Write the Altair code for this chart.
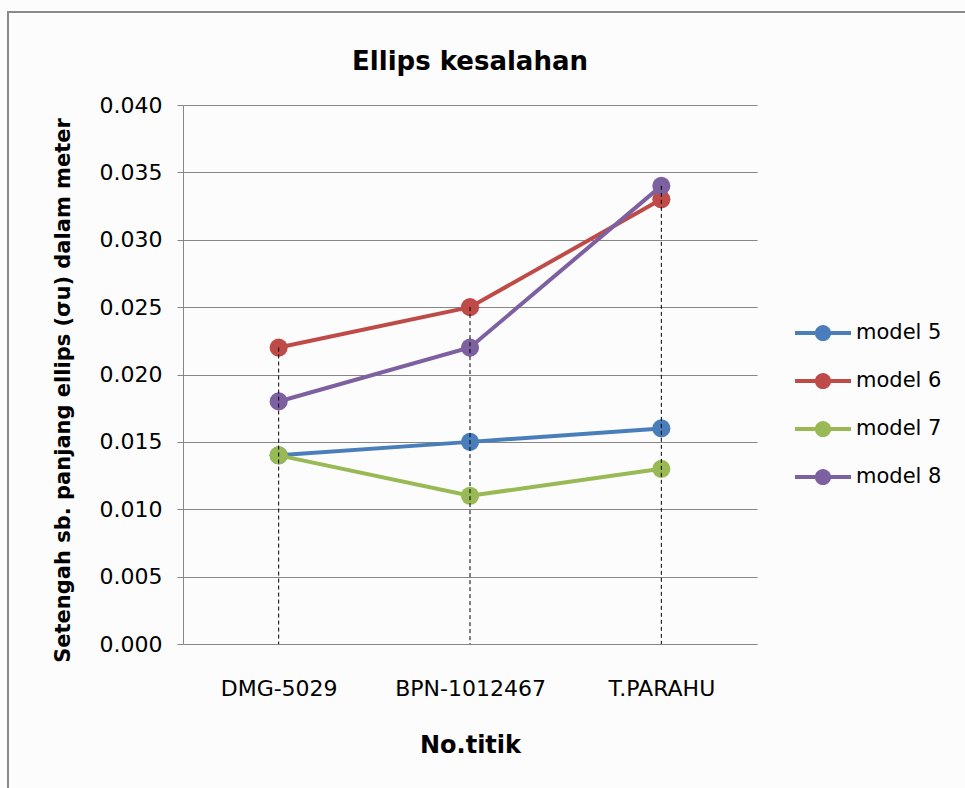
import altair as alt
import pandas as pd

categories = ["DMG-5029", "BPN-1012467", "T.PARAHU"]
series_names = ["model 5", "model 6", "model 7", "model 8"]
model5 = [0.014, 0.015, 0.016]
model6 = [0.022, 0.025, 0.033]
model7 = [0.014, 0.011, 0.013]
model8 = [0.018, 0.022, 0.034]
colors = ["#4A7EBB", "#BE4B48", "#98B954", "#7D60A0"]
y_ticks = [0.0, 0.005, 0.010, 0.015, 0.020, 0.025, 0.030, 0.035, 0.040]

rows = []
for name, vals in zip(series_names, [model5, model6, model7, model8]):
    for c, v in zip(categories, vals):
        rows.append({"titik": c, "model": name, "value": v})
df = pd.DataFrame(rows)

W, H = 574, 539
FONT = "DejaVu Sans"
GRID = "#868686"

x_enc = alt.X(
    "titik:N", sort=categories,
    scale=alt.Scale(type="point", padding=0.5),
    axis=alt.Axis(
        title="No.titik", labelAngle=0, ticks=False, domain=False, grid=False,
        labelFont=FONT, labelFontSize=22, labelColor="#000", labelPadding=34,
        titleFont=FONT, titleFontSize=24, titleFontWeight="bold", titleColor="#000",
        titleX=W / 2, titleY=101, titleBaseline="middle", titleAlign="center",
    ),
)
y_enc = alt.Y(
    "value:Q",
    scale=alt.Scale(domain=[0, 0.04], nice=False, zero=True),
    axis=alt.Axis(
        title="Setengah sb. panjang ellips (σu) dalam meter",
        values=y_ticks, format=".3f",
        grid=True, gridColor=GRID, gridWidth=1,
        domain=True, domainColor=GRID, domainWidth=1,
        ticks=True, tickColor=GRID, tickSize=6, tickWidth=1,
        labelFont=FONT, labelFontSize=22, labelColor="#000", labelPadding=15,
        titleFont=FONT, titleFontSize=21, titleFontWeight="bold", titleColor="#000",
        titleX=-120, titleY=285, titleAngle=-90, titleBaseline="middle", titleAlign="center",
    ),
)

LEG_PATH = ("M-1,-0.071L1,-0.071L1,0.071L-1,0.071Z "
            "M-0.29,0A0.29,0.29 0 1,1 0.29,0A0.29,0.29 0 1,1 -0.29,0Z")

legend = alt.Legend(
    orient="none", legendX=612, legendY=200,
    symbolType=LEG_PATH, symbolSize=3136, symbolStrokeWidth=0, symbolOpacity=1,
    labelFont=FONT, labelFontSize=21, labelColor="#000", labelOffset=5,
    rowPadding=10, padding=0, title=None,
)

scale_c = alt.Scale(domain=series_names, range=colors)
base = alt.Chart(df)

border = alt.Chart(pd.DataFrame({"a": [0]})).mark_rect(
    fill=None, fillOpacity=0, stroke="#8a8a8a", strokeWidth=2
).encode(
    x=alt.value(8 - 183), y=alt.value(12 - 105),
    x2=alt.value(965 - 183 + 10), y2=alt.value(788 - 105 + 10),
)

layers = [border]
for name in series_names:
    sub = base.transform_filter(alt.datum.model == name)
    layers.append(
        sub.mark_line(strokeWidth=4).encode(
            x=x_enc, y=y_enc,
            stroke=alt.Stroke("model:N", scale=scale_c, legend=legend),
        )
    )
    layers.append(
        sub.mark_point(filled=True, size=330, opacity=1).encode(
            x=x_enc, y=y_enc,
            color=alt.Color("model:N", scale=scale_c, legend=legend),
        )
    )

drops = base.transform_aggregate(
    maxv="max(value)", groupby=["titik"]
).mark_rule(color="black", strokeWidth=1, strokeDash=[4, 3]).encode(
    x=x_enc, y=alt.Y("maxv:Q"), y2=alt.datum(0),
)
layers.append(drops)

chart = alt.layer(*layers).properties(
    width=W, height=H,
    title=alt.TitleParams(
        "Ellips kesalahan", font=FONT, fontSize=26, fontWeight="bold", color="#000",
        anchor="middle", frame="group", offset=0, dy=85, baseline="alphabetic",
    ),
    autosize=alt.AutoSizeParams(type="none"),
    padding={"left": 183, "top": 105, "right": 965 - 183 - W, "bottom": 788 - 105 - H},
).configure(background="#fcfcfc").configure_view(stroke=None)

chart.save("out.html", embed_options={"renderer": "svg", "actions": False})
